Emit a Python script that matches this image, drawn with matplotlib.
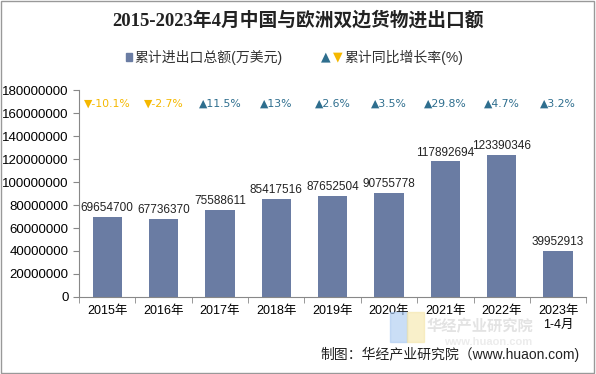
import numpy as np
import matplotlib.pyplot as plt
from matplotlib.patches import Rectangle

plt.rcParams['font.family'] = ['Liberation Sans', 'Noto Sans CJK SC']

years = ['2015年', '2016年', '2017年', '2018年', '2019年', '2020年', '2021年', '2022年', '2023年\n1-4月']
totals = [69654700, 67736370, 75588611, 85417516, 87652504, 90755778, 117892694, 123390346, 39952913]
growth = [-10.1, -2.7, 11.5, 13, 2.6, 3.5, 29.8, 4.7, 3.2]

bar_color = '#6a7ca3'
up_color = '#2e6e8e'
down_color = '#f5b800'

fig = plt.figure(figsize=(5.96, 3.74), dpi=100)
ax = fig.add_axes([0.1326, 0.206, 0.851, 0.553])

x = np.arange(len(years))
ax.bar(x, totals, width=0.52, color=bar_color, zorder=2)
for i, v in enumerate(totals):
    ax.text(i, v + 2500000, str(v), ha='center', va='bottom', fontsize=8.5, color='#222222')

for i, g in enumerate(growth):
    if g < 0:
        sym, c = '▼', down_color
    else:
        sym, c = '▲', up_color
    ax.text(i, 168000000, sym + f'{g:g}%', ha='center', va='center', fontsize=7.8, color=c,
            family=['DejaVu Sans'])

ax.set_xlim(-0.5, len(years) - 0.5)
ax.set_ylim(0, 180000000)
ax.set_yticks(np.arange(0, 180000001, 20000000))
ax.set_yticklabels([str(v) for v in range(0, 180000001, 20000000)], fontsize=9.5)
ax.set_xticks(x)
ax.set_xticklabels(years, fontsize=9)
ax.set_xticks(np.arange(-0.5, len(years), 1), minor=True)
ax.tick_params(axis='x', which='major', length=0, pad=6)
ax.tick_params(axis='x', which='minor', length=4, color='#888888', direction='out')
ax.tick_params(axis='y', length=4, color='#888888', direction='out')
for s in ['top', 'right']:
    ax.spines[s].set_visible(False)
ax.spines['left'].set_color('#888888')
ax.spines['bottom'].set_color('#888888')

fig.text(0.5, 0.945, '2015-2023年4月中国与欧洲双边货物进出口额', ha='center', va='center',
         fontsize=13.5, fontweight='bold', family=['Liberation Serif', 'Noto Sans CJK SC'], color='#222222')

# legend
fig.patches.append(Rectangle((0.211, 0.837), 0.01, 0.02, transform=fig.transFigure, color=bar_color))
fig.text(0.225, 0.847, '累计进出口总额(万美元)', ha='left', va='center', fontsize=10, color='#333333')
fig.text(0.538, 0.847, '▲', ha='left', va='center', fontsize=9, color=up_color, family='DejaVu Sans')
fig.text(0.558, 0.847, '▼', ha='left', va='center', fontsize=9, color=down_color, family='DejaVu Sans')
fig.text(0.578, 0.847, '累计同比增长率(%)', ha='left', va='center', fontsize=10, color='#333333')

# watermark
fig.patches.append(Rectangle((0.655, 0.085), 0.028, 0.08, transform=fig.transFigure, color='#a8c8f0', alpha=0.6))
fig.patches.append(Rectangle((0.683, 0.085), 0.028, 0.08, transform=fig.transFigure, color='#f5e6a8', alpha=0.6))
fig.text(0.715, 0.128, '华经产业研究院', fontsize=11, fontweight='bold', color='#c8c8c8', alpha=0.5, va='center')
fig.text(0.745, 0.085, 'www.huaon.com', fontsize=8, fontweight='bold', color='#d0d0d0', alpha=0.4, va='center')

fig.text(0.972, 0.052, '制图：华经产业研究院（www.huaon.com)', ha='right', va='center', fontsize=10, color='#222222')

fig.patches.append(Rectangle((0.002, 0.003), 0.995, 0.994, transform=fig.transFigure,
                             fill=False, edgecolor='#999999', linewidth=1))

fig.savefig('out.png', dpi=100)
